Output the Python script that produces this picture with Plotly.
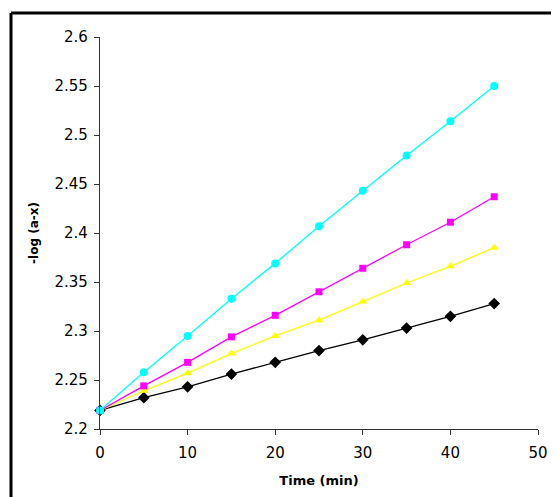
import plotly.graph_objects as go

time_min = [0, 5, 10, 15, 20, 25, 30, 35, 40, 45]
series_black = [2.219, 2.232, 2.243, 2.256, 2.268, 2.280, 2.291, 2.303, 2.315, 2.328]
series_yellow = [2.219, 2.239, 2.257, 2.277, 2.295, 2.311, 2.330, 2.349, 2.366, 2.385]
series_magenta = [2.219, 2.244, 2.268, 2.294, 2.316, 2.340, 2.364, 2.388, 2.411, 2.437]
series_cyan = [2.219, 2.258, 2.295, 2.333, 2.369, 2.407, 2.443, 2.479, 2.514, 2.550]

x_ticks = [0, 10, 20, 30, 40, 50]
y_ticks = [2.2, 2.25, 2.3, 2.35, 2.4, 2.45, 2.5, 2.55, 2.6]
y_labels = ["2.2", "2.25", "2.3", "2.35", "2.4", "2.45", "2.5", "2.55", "2.6"]

FONT = "DejaVu Sans, Arial, sans-serif"

fig = go.Figure()
specs = [
    (series_black, "#000000", "diamond", 9),
    (series_yellow, "#FFFF00", "triangle-up", 8),
    (series_magenta, "#FF00FF", "square", 7),
    (series_cyan, "#00FFFF", "circle", 8),
]
for ys, col, sym, sz in specs:
    fig.add_trace(go.Scatter(
        x=time_min, y=ys, mode="lines+markers",
        line=dict(color=col, width=1.3),
        marker=dict(color=col, symbol=sym, size=sz, line=dict(width=0)),
        showlegend=False, cliponaxis=False,
    ))

# page body adds an 8px margin; margins place the plot area at x 100-538, y 37-429 of the window
fx0 = (11 - 100) / 438
fy1 = (429 - 13) / 392
fig.update_layout(
    width=551, height=489,
    margin=dict(l=92, r=21, t=29, b=68),
    paper_bgcolor="white", plot_bgcolor="white",
    font=dict(family=FONT, color="black"),
    xaxis=dict(
        range=[0, 50], tickvals=x_ticks, showgrid=False, zeroline=False, automargin=False,
        showline=True, linecolor="#333333", linewidth=1.3,
        ticks="outside", ticklen=5, tickcolor="#333333",
        tickfont=dict(size=15, family=FONT), ticklabelstandoff=5,
        title=dict(text="<b>Time (min)</b>", font=dict(size=13, family=FONT), standoff=14),
    ),
    yaxis=dict(
        range=[2.2, 2.6], tickvals=y_ticks, ticktext=y_labels, showgrid=False, zeroline=False,
        automargin=False,
        showline=True, linecolor="#333333", linewidth=1.3,
        ticks="outside", ticklen=5, tickcolor="#333333",
        tickfont=dict(size=15, family=FONT), ticklabelstandoff=3,
        title=dict(text="<b>-log (a-x)</b>", font=dict(size=12, family=FONT), standoff=13),
    ),
    shapes=[
        dict(type="line", xref="paper", yref="paper", x0=fx0, x1=1.4, y0=fy1, y1=fy1,
             line=dict(color="black", width=3), layer="below"),
        dict(type="line", xref="paper", yref="paper", x0=fx0, x1=fx0, y0=-0.4, y1=fy1,
             line=dict(color="black", width=3), layer="below"),
    ],
)

fig.write_html("out.html")
